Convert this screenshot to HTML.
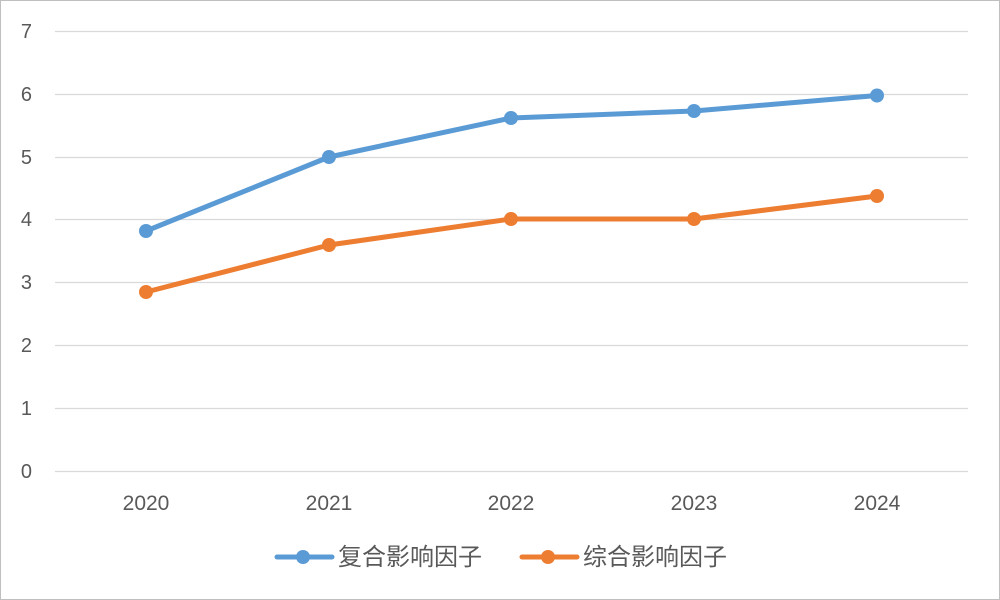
<!DOCTYPE html>
<html><head><meta charset="utf-8"><style>
html,body{margin:0;padding:0;background:#fff;}
svg{display:block;}
text{font-family:"Liberation Sans","Noto Sans CJK SC",sans-serif;fill:#595959;}
</style></head><body>
<svg width="1000" height="600" viewBox="0 0 1000 600" xmlns="http://www.w3.org/2000/svg">
<rect x="0.5" y="0.5" width="999" height="599" fill="#fff" stroke="#bfbfbf"/>
<g stroke="#d9d9d9" stroke-width="1.3">
<line x1="55" y1="31.5" x2="968" y2="31.5"/>
<line x1="55" y1="94.5" x2="968" y2="94.5"/>
<line x1="55" y1="157.5" x2="968" y2="157.5"/>
<line x1="55" y1="219.5" x2="968" y2="219.5"/>
<line x1="55" y1="282.5" x2="968" y2="282.5"/>
<line x1="55" y1="345.5" x2="968" y2="345.5"/>
<line x1="55" y1="408.5" x2="968" y2="408.5"/>
<line x1="55" y1="471.5" x2="968" y2="471.5"/>
</g>
<g font-size="20" text-anchor="end">
<text x="32" y="38">7</text>
<text x="32" y="101">6</text>
<text x="32" y="164">5</text>
<text x="32" y="226">4</text>
<text x="32" y="289">3</text>
<text x="32" y="352">2</text>
<text x="32" y="415">1</text>
<text x="32" y="478">0</text>
</g>
<g font-size="21" text-anchor="middle">
<text x="146" y="510">2020</text>
<text x="329" y="510">2021</text>
<text x="511" y="510">2022</text>
<text x="694" y="510">2023</text>
<text x="877" y="510">2024</text>
</g>
<polyline points="146,231 329,157 511,118 694,111 877,95.5" fill="none" stroke="#5B9BD5" stroke-width="5" stroke-linejoin="round" stroke-linecap="round"/>
<g fill="#5B9BD5">
<circle cx="146" cy="231" r="7"/><circle cx="329" cy="157" r="7"/><circle cx="511" cy="118" r="7"/><circle cx="694" cy="111" r="7"/><circle cx="877" cy="95.5" r="7"/>
</g>
<polyline points="146,292 329,245 511,219 694,219 877,196" fill="none" stroke="#ED7D31" stroke-width="5" stroke-linejoin="round" stroke-linecap="round"/>
<g fill="#ED7D31">
<circle cx="146" cy="292" r="7"/><circle cx="329" cy="245" r="7"/><circle cx="511" cy="219" r="7"/><circle cx="694" cy="219" r="7"/><circle cx="877" cy="196" r="7"/>
</g>
<line x1="277" y1="557" x2="332" y2="557" stroke="#5B9BD5" stroke-width="5" stroke-linecap="round"/>
<circle cx="303" cy="557" r="7" fill="#5B9BD5"/>
<text x="338" y="565" font-size="24">复合影响因子</text>
<line x1="522" y1="557" x2="577" y2="557" stroke="#ED7D31" stroke-width="5" stroke-linecap="round"/>
<circle cx="548" cy="557" r="7" fill="#ED7D31"/>
<text x="583" y="565" font-size="24">综合影响因子</text>
</svg>
</body></html>
